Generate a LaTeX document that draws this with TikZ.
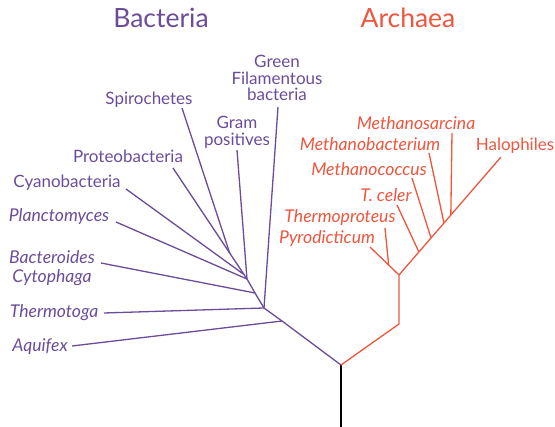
\documentclass[tikz,border=0pt]{standalone}
\usepackage{fontspec}
\setmainfont{Lato}
\usetikzlibrary{calc}
\definecolor{bact}{RGB}{107,76,154}
\definecolor{arch}{RGB}{238,86,62}
\begin{document}
\begin{tikzpicture}[x=1pt,y=-1pt,
  bline/.style={draw=bact,line width=1.3pt},
  aline/.style={draw=arch,line width=1.3pt},
  blab/.style={text=bact,inner sep=0pt,font=\fontsize{17}{16.5}\selectfont},
  bital/.style={text=bact,inner sep=0pt,font=\fontsize{17.6}{18.5}\selectfont\itshape},
  alab/.style={text=arch,inner sep=0pt,font=\fontsize{17.6}{16.5}\selectfont\itshape},
  title/.style={inner sep=0pt,font=\fontsize{26.5}{30}\selectfont,anchor=base}]
\useasboundingbox (0,0) rectangle (555,427);
% titles
\node[title,text=bact] (tB) at (161,28) {Bacteria};
\node[title,text=arch] (tA) at (408,28) {Archaea};
% trunk
\coordinate (root) at (341,365);
\coordinate (bot) at (341,428);
\draw[line width=1.8pt] (root) -- (bot);
% bacteria stem
\coordinate (bA) at (282,321);
\coordinate (b1) at (264,308);
\coordinate (b2) at (255,293);
\coordinate (b3) at (247,279);
\coordinate (eaq) at (72,346);
\coordinate (eth) at (104,313);
\coordinate (egf) at (278,107);
\coordinate (ebc) at (101,263);
\coordinate (egp) at (237,150);
\coordinate (epl) at (116,222);
\coordinate (ecy) at (126,189);
\coordinate (epr) at (173,168);
\coordinate (esp) at (182,108);
\coordinate (bS) at ($(b3)!0.234!(epr)$);
\coordinate (bC) at ($(b3)!0.04!(epr)$);
\draw[bline,line join=round] (root) -- (bA) -- (b1) -- (b2) -- (b3) -- (epr);
\draw[bline] (bA) -- (eaq);
\draw[bline] (b1) -- (eth);
\draw[bline] (b1) -- (egf);
\draw[bline] (b2) -- (ebc);
\draw[bline] (b3) -- (egp);
\draw[bline] (b3) -- (epl);
\draw[bline] (bC) -- (ecy);
\draw[bline] (bS) -- (esp);
% bacteria labels
\node[blab,anchor=north,align=center] (lgf) at (277,55) {Green\\Filamentous\\bacteria};
\node[blab,anchor=base] (lsp) at (149,105) {Spirochetes};
\node[blab,anchor=north,align=center] (lgp) at (237,116) {Gram\\positives};
\node[blab,anchor=base] (lpr) at (128,163) {Proteobacteria};
\node[blab,anchor=base] (lcy) at (67,188) {Cyanobacteria};
\node[bital,anchor=base] (lpl) at (59,222) {Planctomyces};
\node[bital,anchor=north,align=center] (lbc) at (52,250.5) {Bacteroides\\Cytophaga};
\node[bital,anchor=base] (lth) at (54,318) {Thermotoga};
\node[bital,anchor=base] (laq) at (40,352) {Aquifex};
% archaea
\coordinate (a1) at (399,324);
\coordinate (a2) at (399,275);
\coordinate (epy) at (370,247);
\coordinate (etp) at (385,228);
\coordinate (eha) at (501,157);
\coordinate (etc) at (397,205);
\coordinate (emc) at (412,178);
\coordinate (emb) at (429,153);
\coordinate (ems) at (452,133);
\coordinate (aTP) at ($(a2)!0.357!(epy)$);
\coordinate (aTC) at ($(a2)!0.195!(eha)$);
\coordinate (aMC) at ($(a2)!0.314!(eha)$);
\coordinate (aMB) at ($(a2)!0.441!(eha)$);
\coordinate (aMS) at ($(a2)!0.508!(eha)$);
\draw[aline,line join=round] (root) -- (a1) -- (a2) -- (eha);
\draw[aline] (a2) -- (epy);
\draw[aline] (aTP) -- (etp);
\draw[aline] (aTC) -- (etc);
\draw[aline] (aMC) -- (emc);
\draw[aline] (aMB) -- (emb);
\draw[aline] (aMS) -- (ems);
% archaea labels
\node[alab,anchor=base] (lms) at (416,130) {Methanosarcina};
\node[alab,anchor=base] (lmb) at (370,150.5) {Methanobacterium};
\node[blab,text=arch,anchor=base] (lha) at (515,150.5) {Halophiles};
\node[alab,anchor=base] (lmc) at (369,176) {Methanococcus};
\node[alab,anchor=base] (ltc) at (386,201.5) {T. celer};
\node[alab,anchor=base] (ltp) at (340,223) {Thermoproteus};
\node[alab,anchor=base] (lpy) at (327,244) {Pyrodicticum};
\end{tikzpicture}
\end{document}
